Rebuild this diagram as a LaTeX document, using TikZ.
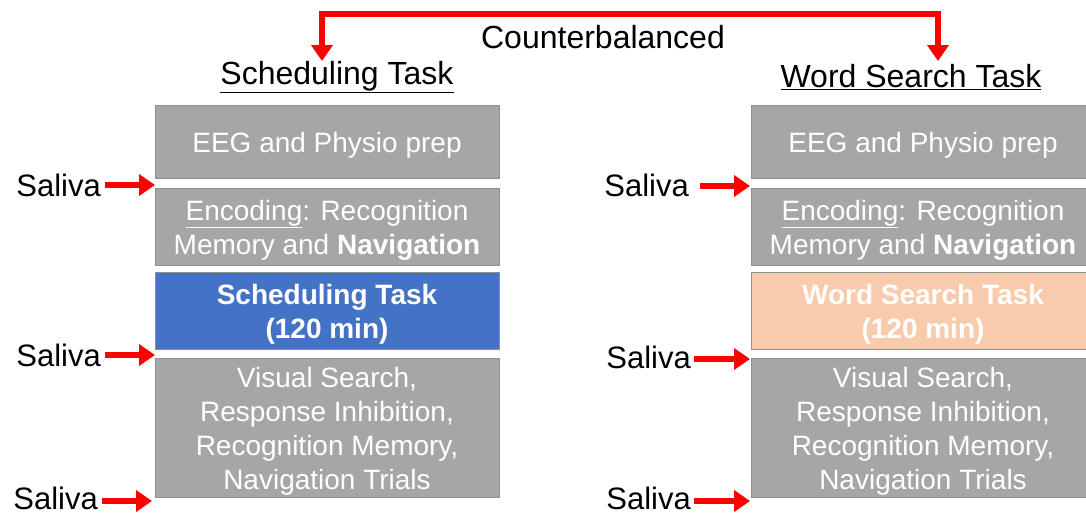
\documentclass[tikz,border=0pt]{standalone}
\usepackage{fontspec}
\setmainfont{Liberation Sans}
\usetikzlibrary{arrows.meta}
\definecolor{boxgray}{HTML}{A6A6A6}
\definecolor{boxedge}{HTML}{8F8F8F}
\definecolor{taskblue}{HTML}{4472C4}
\definecolor{taskpeach}{HTML}{F8CBAD}
\definecolor{arrred}{HTML}{FF0000}
\begin{document}
\begin{tikzpicture}[x=1pt,y=-1pt,
  stagebox/.style={draw=boxedge,line width=0.8pt,fill=boxgray,
    minimum width=344pt,inner sep=0pt},
  boxtext/.style={text=white,inner sep=0pt,align=center,
    font=\fontsize{28}{34}\selectfont},
  outertext/.style={inner sep=0pt,font=\fontsize{31}{36}\selectfont},
  titletext/.style={inner sep=0pt,font=\fontsize{32}{36}\selectfont},
  redarrow/.style={draw=arrred,line width=5.5pt,-{Triangle[length=16pt,width=21pt]}},
]
\useasboundingbox (0,0) rectangle (1086,515);
\begin{scope}
\clip (0,0) rectangle (1086,515);
% left column
\node[stagebox,minimum height=73pt] (lA) at (327,141.5) {};
\node[stagebox,minimum height=77pt] (lB) at (327,226.5) {};
\node[stagebox,minimum height=77pt,fill=taskblue] (lC) at (327,310.5) {};
\node[stagebox,minimum height=139pt] (lD) at (327,427.5) {};
% right column
\node[stagebox,minimum height=73pt] (rA) at (923,141.5) {};
\node[stagebox,minimum height=77pt] (rB) at (923,226.5) {};
\node[stagebox,minimum height=77pt,fill=taskpeach] (rC) at (923,310.5) {};
\node[stagebox,minimum height=139pt] (rD) at (923,427.5) {};
\end{scope}
\node[boxtext] (lAt) at ([yshift=-3.5pt]lA.center) {EEG and Physio prep};
\node[boxtext] (lBt) at ([yshift=-3.5pt]lB.center) {\underline{Encoding}: Recognition\\Memory and \textbf{Navigation}};
\node[boxtext] (lCt) at ([yshift=-3.5pt]lC.center) {\textbf{Scheduling Task}\\\textbf{(120 min)}};
\node[boxtext] (lDt) at ([yshift=-3.5pt]lD.center) {Visual Search,\\Response Inhibition,\\Recognition Memory,\\Navigation Trials};
\node[boxtext] (rAt) at ([yshift=-3.5pt]rA.center) {EEG and Physio prep};
\node[boxtext] (rBt) at ([yshift=-3.5pt]rB.center) {\underline{Encoding}: Recognition\\Memory and \textbf{Navigation}};
\node[boxtext] (rCt) at ([yshift=-3.5pt]rC.center) {\textbf{Word Search Task}\\\textbf{(120 min)}};
\node[boxtext] (rDt) at ([yshift=-3.5pt]rD.center) {Visual Search,\\Response Inhibition,\\Recognition Memory,\\Navigation Trials};
% titles
\node[titletext] (lT) at (337,77) {\underline{Scheduling Task}};
\node[titletext] (rT) at (911,77) {\underline{Word Search Task}};
\node[titletext] (cb) at (603,37) {Counterbalanced};
% counterbalance arrows
\coordinate (cl) at (322,14);
\coordinate (cr) at (938,14);
\coordinate (tl) at (322,61);
\coordinate (tr) at (938,61);
\draw[draw=arrred,line width=5.5pt] ([xshift=-2.75pt]cl) -- ([xshift=2.75pt]cr);
\draw[redarrow] (cl) -- (tl);
\draw[redarrow] (cr) -- (tr);
% saliva labels
\node[outertext,anchor=east] (ls1) at (101,185) {Saliva};
\node[outertext,anchor=east] (ls2) at (101,355) {Saliva};
\node[outertext,anchor=east] (ls3) at (98,498) {Saliva};
\node[outertext,anchor=east] (rs1) at (689,185) {Saliva};
\node[outertext,anchor=east] (rs2) at (691,357) {Saliva};
\node[outertext,anchor=east] (rs3) at (691,498) {Saliva};
\coordinate (lt1) at (155,185);
\coordinate (lt2) at (155,355);
\coordinate (lt3) at (152,501);
\coordinate (rt1) at (750,186);
\coordinate (rt2) at (750,359);
\coordinate (rt3) at (750,501);
\draw[redarrow] ([xshift=4pt]ls1.east |- lt1) -- (lt1);
\draw[redarrow] ([xshift=4pt]ls2.east |- lt2) -- (lt2);
\draw[redarrow] ([xshift=4pt]ls3.east |- lt3) -- (lt3);
\draw[redarrow] ([xshift=11pt]rs1.east |- rt1) -- (rt1);
\draw[redarrow] ([xshift=3pt]rs2.east |- rt2) -- (rt2);
\draw[redarrow] ([xshift=3pt]rs3.east |- rt3) -- (rt3);
\end{tikzpicture}
\end{document}
